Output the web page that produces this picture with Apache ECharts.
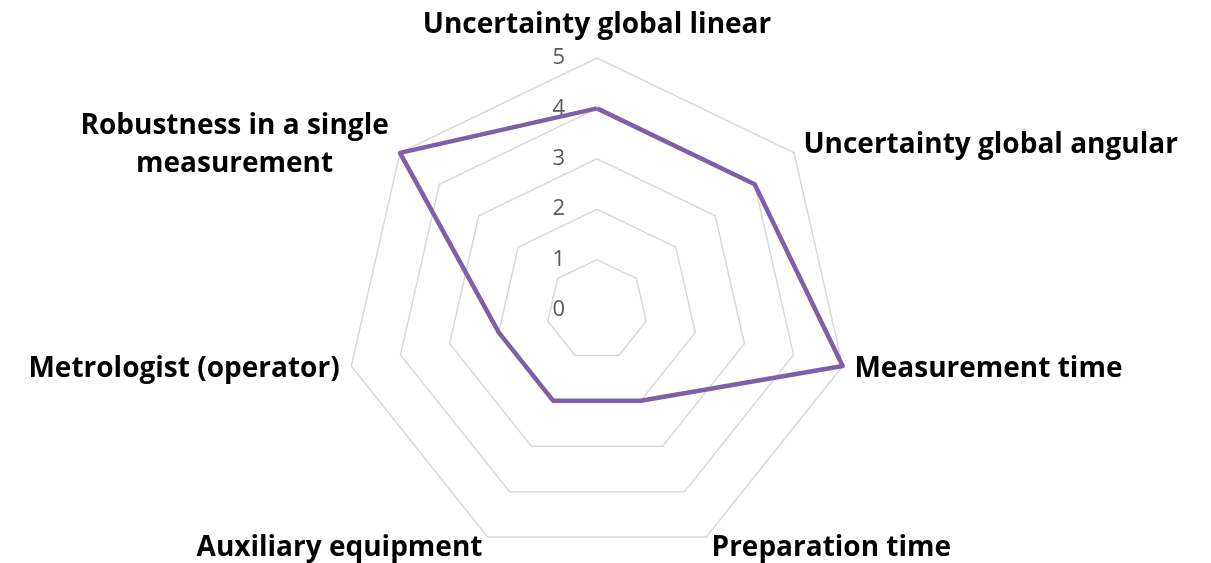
<!DOCTYPE html>
<html>
<head>
<meta charset="utf-8">
<script src="https://cdn.jsdelivr.net/npm/echarts@6/dist/echarts.min.js"></script>
<style>
  html, body { margin: 0; padding: 0; background: #fff; }
  #chart { width: 1211px; height: 563px; }
</style>
</head>
<body>
<div id="chart"></div>
<script>
// criteria in echarts radar order (top first, then going counter-clockwise)
var criteria = [
  "Uncertainty global linear",
  "Robustness in a single\nmeasurement",
  "Metrologist (operator)",
  "Auxiliary equipment",
  "Preparation time",
  "Measurement time",
  "Uncertainty global angular"
];
var scores = [4, 5, 2, 2, 2, 5, 4];
var tickLabels = ["0", "1", "2", "3", "4", "5"];

var nameFont = {
  color: "#000",
  fontSize: 28,
  fontWeight: "bold",
  fontFamily: "Open Sans"
};

var chart = echarts.init(document.getElementById("chart"));

var option = {
  animation: false,
  textStyle: { fontFamily: "Open Sans" },
  radar: {
    center: [597, 310],
    radius: 252,
    startAngle: 90,
    shape: "polygon",
    splitNumber: 5,
    axisName: Object.assign({}, nameFont, {
      formatter: function (name) {
        // top label sits a bit higher above its vertex
        if (name === criteria[0]) return "{top|" + name + "}";
        if (name.indexOf("\n") < 0) return name;
        // two-line label: centre both lines on each other, like the original
        return name.split("\n").map(function (l) {
          return "{c|" + l + "}";
        }).join("\n");
      },
      rich: {
        top: Object.assign({}, nameFont, { padding: [0, 0, 7, 0] }),
        c: Object.assign({}, nameFont, {
          width: 312,
          align: "center",
          lineHeight: 38
        })
      }
    }),
    nameGap: 12,
    indicator: criteria.map(function (c) {
      return { name: c, min: 0, max: 5 };
    }),
    axisLine: { show: false },
    splitLine: { lineStyle: { color: "#d9d9d9", width: 1.5 } },
    splitArea: { show: false },
    axisTick: { show: false },
    axisLabel: { show: false }
  },
  // polar overlay only to print the scale once, on the top axis
  polar: { center: [597, 310], radius: 252 },
  angleAxis: { startAngle: 90, show: false, min: 0, max: 360 },
  radiusAxis: {
    min: 0,
    max: 5,
    interval: 1,
    axisLine: { show: false },
    axisTick: { show: false },
    splitLine: { show: false },
    axisLabel: {
      margin: 32,
      color: "#595959",
      fontSize: 22,
      fontFamily: "Open Sans",
      formatter: function (v) { return tickLabels[v]; }
    }
  },
  series: [
    {
      type: "radar",
      symbol: "none",
      lineStyle: { color: "#7e60a8", width: 4.5 },
      data: [{ value: scores }]
    }
  ]
};

chart.setOption(option);
</script>
</body>
</html>
